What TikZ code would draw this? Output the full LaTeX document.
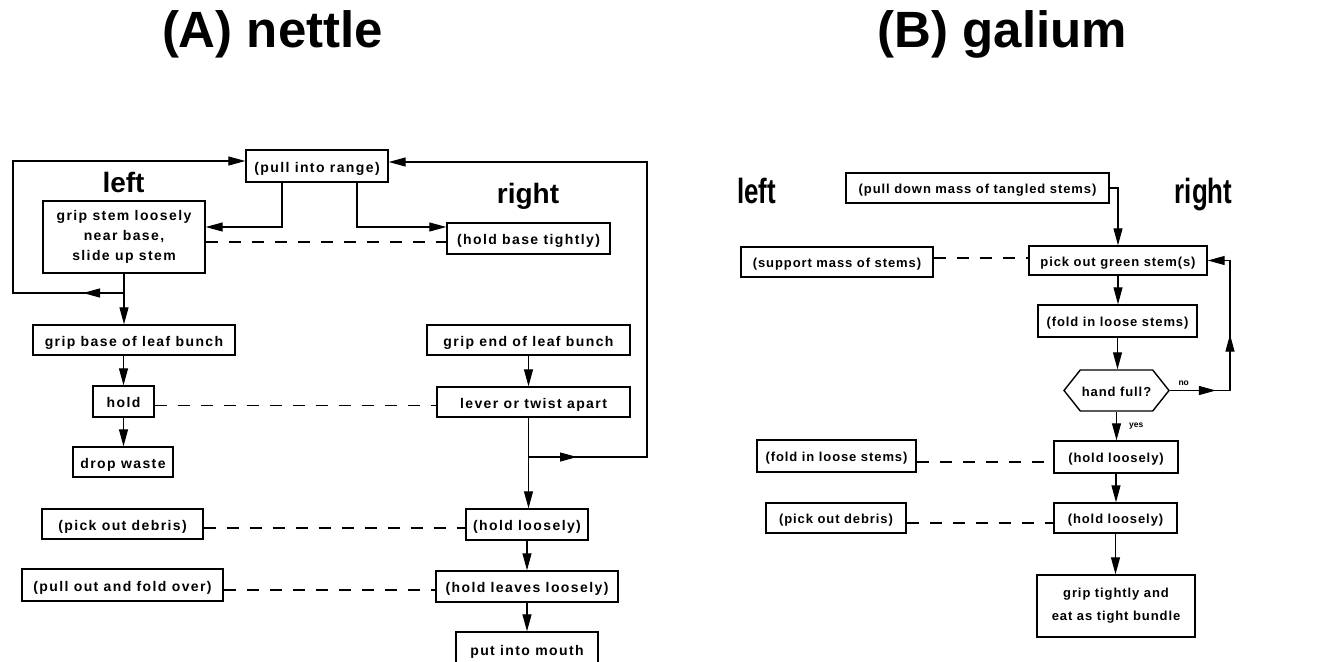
\documentclass[tikz,border=0pt]{standalone}
\usepackage{fontspec}
\setmainfont{Liberation Sans}
\newfontfamily\trackfont[LetterSpace=10]{Liberation Sans}
\newfontfamily\trackfontb[LetterSpace=7]{Liberation Sans}
\newfontfamily\narrowfont[FakeStretch=0.74]{Liberation Sans}
\usetikzlibrary{arrows.meta,decorations.markings,shapes.symbols}

\begin{document}
\begin{tikzpicture}[x=1pt,y=-1pt,line width=1.1pt,
  >={Triangle[length=17pt,width=9pt]},
  framed/.style={draw,line width=1.4pt,inner sep=0pt},
  boxa/.style={framed,text height=12pt,text depth=0pt,font=\trackfont\bfseries\fontsize{14}{20}\selectfont},
  boxb/.style={framed,text height=11.5pt,text depth=0pt,font=\trackfontb\bfseries\fontsize{13}{23}\selectfont},
  link/.style={dash pattern=on 12pt off 11pt},
  midarrow/.style={postaction={decorate},decoration={markings,mark=at position #1 with {\arrow{>}}}},
  midarrows/.style 2 args={postaction={decorate},decoration={markings,mark=at position #1 with {\arrow{>}},mark=at position #2 with {\arrow{>}}}},
  headline/.style={font=\bfseries\fontsize{51}{60}\selectfont,anchor=base},
  sidelabel/.style={font=\bfseries\fontsize{28}{30}\selectfont,anchor=base},
  sidelabelb/.style={font=\narrowfont\bfseries\fontsize{35}{40}\selectfont,anchor=base},
  branchtag/.style={font=\bfseries\fontsize{8.5}{9}\selectfont,inner sep=0pt}]
\useasboundingbox (0,0) rectangle (1327,661);
% (A) nettle
\node[headline] (ta) at (272.5,48) {(A) nettle};
\node[sidelabel] (la) at (123.5,192) {left};
\node[sidelabel] (ra) at (528,203) {right};
\node[boxa,minimum width=142,minimum height=32] (pull) at (317,166) {(pull into range)};
\node[framed,align=center,font=\trackfont\bfseries\fontsize{14}{20}\selectfont,minimum width=162,minimum height=72] (gs) at (124,237) {grip stem loosely\\near base,\\slide up stem};
\node[boxa,minimum width=163,minimum height=31] (hb) at (528.5,238.5) {(hold base tightly)};
\node[boxa,minimum width=202,minimum height=30] (gb) at (134,340) {grip base of leaf bunch};
\node[boxa,minimum width=203,minimum height=30] (ge) at (528.5,340) {grip end of leaf bunch};
\node[boxa,minimum width=61,minimum height=31] (hold) at (123.5,401.5) {hold};
\node[boxa,minimum width=193,minimum height=30] (lev) at (533.5,402) {lever or twist apart};
\node[boxa,minimum width=100,minimum height=30] (dw) at (123,462) {drop waste};
\node[boxa,minimum width=161,minimum height=30] (pod) at (122.5,524) {(pick out debris)};
\node[boxa,minimum width=122,minimum height=31] (hl) at (527,524.5) {(hold loosely)};
\node[boxa,minimum width=201,minimum height=32] (pof) at (122.5,585) {(pull out and fold over)};
\node[boxa,minimum width=182,minimum height=31] (hll) at (527,586.5) {(hold leaves loosely)};
\node[boxa,minimum width=142,minimum height=34] (pim) at (527,649) {put into mouth};
\coordinate (j1) at (124,293);
\coordinate (lc) at (13,293);
\coordinate (j2) at (528,457);
\coordinate (rc) at (647,457);
\draw[->] ([xshift=-35pt]pull.south) |- ([yshift=10pt]gs.east);
\draw[->] ([xshift=40pt]pull.south) |- ([yshift=11.5pt]hb.west);
\draw[->] (gs.south) -- (gs.south |- gb.north);
\draw[->,midarrow=41pt] (j1) -- (lc) |- ([yshift=5pt]pull.west);
\draw[->] (hold.north |- gb.south) -- (hold.north);
\draw[->] (hold.south) -- (hold.south |- dw.north);
\draw[->] (ge.south) -- (ge.south |- lev.north);
\draw[->] (ge.south |- lev.south) -- (ge.south |- hl.north);
\draw[->,midarrow=49pt] (j2) -- (rc) |- ([yshift=4pt]pull.east);
\draw[->] (hl.south) -- (hll.north);
\draw[->] (hll.south) -- (pim.north);
\draw[link] ([yshift=-5pt]gs.east) -- ([yshift=-5pt]gs.east -| hb.west);
\draw[link,line width=0.8pt] ([yshift=-4pt]hold.east) -- ([yshift=-4pt]hold.east -| lev.west);
\draw[link] ([yshift=-4pt]pod.east) -- ([yshift=-4pt]pod.east -| hl.west);
\draw[link] ([yshift=-5pt]pof.east) -- ([yshift=-5pt]pof.east -| hll.west);
% (B) galium
\node[headline] (tb) at (1002.5,48) {(B) galium};
\node[sidelabelb] (lb) at (756.5,203) {left};
\node[sidelabelb] (rb) at (1203.5,203) {right};
\node[boxb,minimum width=263,minimum height=30] (pd) at (977.5,188) {(pull down mass of tangled stems)};
\node[boxb,minimum width=192,minimum height=30] (sms) at (837,262) {(support mass of stems)};
\node[boxb,minimum width=178,minimum height=29] (pick) at (1118,260.5) {pick out green stem(s)};
\node[boxb,minimum width=159,minimum height=32] (fil) at (1117.5,321) {(fold in loose stems)};
\node[boxb,signal,signal to=east and west,signal pointer angle=103,minimum width=105,minimum height=41] (hand) at (1116.5,390.5) {hand full?};
\node[boxb,minimum width=124,minimum height=32] (hl1) at (1116,457) {(hold loosely)};
\node[boxb,minimum width=159,minimum height=32] (fil2) at (836.5,456) {(fold in loose stems)};
\node[boxb,minimum width=123,minimum height=30] (hl2) at (1115.5,518) {(hold loosely)};
\node[boxb,minimum width=140,minimum height=30] (pod2) at (836,518) {(pick out debris)};
\node[framed,align=center,font=\trackfontb\bfseries\fontsize{13}{23}\selectfont,minimum width=158,minimum height=62] (gt) at (1116,606) {grip tightly and\\eat as tight bundle};
\coordinate (nc) at (1230,390.5);
\draw[->] (pd.east) -| (pick.north);
\draw[->] (pick.south) -- (pick.south |- fil.north);
\draw[->] (fil.south) -- (fil.south |- hand.north);
\draw[->] (hand.south) -- node[branchtag,right=12pt] {yes} (hand.south |- hl1.north);
\draw[->,midarrows={46pt}{116pt}] (hand.east) -- node[branchtag,pos=.23,above=4pt] {no} (nc) |- (pick.east);
\draw[->] (hl1.south) -- (hl1.south |- hl2.north);
\draw[->] (hl2.south) -- (hl2.south |- gt.north);
\draw[link] ([yshift=4pt]sms.east) -- ([yshift=4pt]sms.east -| pick.west);
\draw[link] ([yshift=-6pt]fil2.east) -- ([yshift=-6pt]fil2.east -| hl1.west);
\draw[link] ([yshift=-5pt]pod2.east) -- ([yshift=-5pt]pod2.east -| hl2.west);
\end{tikzpicture}
\end{document}
